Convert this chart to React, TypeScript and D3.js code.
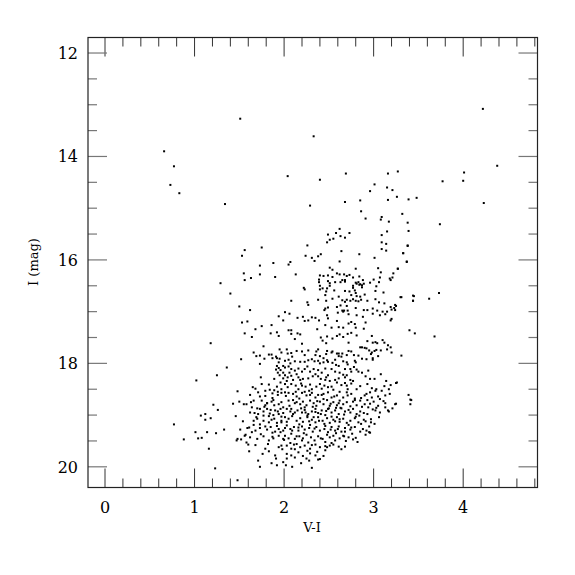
import React from 'react'
import * as d3 from 'd3'

// [V-I, I] pairs
const brightStars: [number, number][] = [
  [0.66, 13.90], [0.77, 14.19], [0.73, 14.55], [0.83, 14.71], [1.34, 14.92], [1.51, 13.27],
  [2.33, 13.61], [2.04, 14.38], [2.40, 14.45], [2.29, 14.95], [2.69, 14.33], [2.68, 14.88],
  [2.85, 14.85], [2.96, 14.67], [3.01, 14.54], [3.16, 14.33], [3.27, 14.29], [3.15, 14.60],
  [3.21, 14.65], [3.16, 14.84], [3.26, 14.78], [3.39, 14.83], [3.48, 14.80], [2.86, 15.06],
  [2.91, 15.20], [3.08, 15.22], [3.09, 15.17], [3.17, 15.26], [3.32, 15.11], [3.38, 15.28],
  [3.74, 15.31], [3.77, 14.48], [4.00, 14.47], [4.01, 14.31], [4.38, 14.18], [4.23, 14.90],
  [4.22, 13.08], [2.62, 15.40]
]

const blueStars: [number, number][] = [
  [1.29, 16.45], [1.40, 16.65], [1.18, 17.61], [1.36, 18.08], [1.25, 18.23], [1.02, 18.33],
  [1.48, 18.54], [1.21, 18.80], [1.26, 18.90], [1.07, 19.01], [1.12, 18.98], [1.12, 19.09],
  [1.18, 19.06], [0.77, 19.18], [0.88, 19.47], [1.01, 19.33], [1.04, 19.45], [1.08, 19.44],
  [1.14, 19.33], [1.24, 19.35], [1.33, 19.28], [1.46, 19.02], [1.16, 19.65], [1.23, 20.03],
  [1.48, 20.26], [1.43, 18.78], [1.47, 19.49], [1.48, 19.46], [1.52, 19.47], [1.51, 19.28],
  [1.52, 17.92], [1.50, 16.90]
]

const giantBranch: [number, number][] = [
  [1.56, 15.81], [1.53, 15.92], [1.75, 15.76], [1.73, 16.11], [1.88, 16.06], [1.55, 16.26],
  [1.56, 16.39], [1.63, 16.35], [1.73, 16.28], [1.90, 16.33], [1.62, 16.97], [1.94, 17.09],
  [2.49, 15.51], [2.48, 15.66], [2.51, 15.61], [2.55, 15.59], [2.58, 15.48], [2.63, 15.54],
  [2.68, 15.57], [2.73, 15.48], [3.09, 15.52], [3.15, 15.45], [3.39, 15.44], [3.09, 15.66],
  [3.14, 15.69], [2.26, 15.72], [3.09, 15.79], [3.14, 15.82], [3.38, 15.73], [3.33, 15.87],
  [2.64, 15.83], [2.84, 15.89], [2.24, 15.92], [2.31, 15.96], [2.38, 15.93], [2.41, 15.89],
  [2.34, 16.02], [2.62, 16.03], [3.01, 15.96], [3.37, 16.04], [2.07, 16.04], [2.05, 16.09],
  [2.13, 16.28], [2.51, 16.15], [2.54, 16.19], [2.80, 16.17], [3.27, 16.17], [2.40, 16.30],
  [2.44, 16.31], [2.49, 16.30], [2.54, 16.33], [2.59, 16.26], [2.62, 16.28], [2.67, 16.28],
  [2.70, 16.31], [2.73, 16.29], [2.77, 16.34], [2.84, 16.32], [3.05, 16.16], [3.08, 16.24],
  [3.22, 16.26], [3.21, 16.34], [3.18, 16.36], [3.19, 16.39], [3.07, 16.34], [2.39, 16.38],
  [2.39, 16.43], [2.49, 16.41], [2.51, 16.45], [2.57, 16.43], [2.63, 16.43], [2.65, 16.39],
  [2.68, 16.39], [2.68, 16.42], [2.80, 16.44], [2.83, 16.43], [2.77, 16.50], [2.81, 16.46],
  [2.96, 16.44], [3.00, 16.38], [3.06, 16.43], [2.40, 16.57], [2.40, 16.50], [2.43, 16.55],
  [2.48, 16.55], [2.51, 16.50], [2.56, 16.59], [2.68, 16.60], [2.73, 16.61], [2.77, 16.54],
  [2.80, 16.64], [2.79, 16.59], [2.75, 16.68], [2.81, 16.70], [2.85, 16.71], [2.90, 16.67],
  [3.03, 16.51], [3.02, 16.60], [3.11, 16.63], [3.31, 16.72], [3.44, 16.69], [3.44, 16.79],
  [2.47, 16.61], [2.46, 16.68], [2.22, 16.54], [2.23, 16.57], [2.38, 16.77], [2.47, 16.79],
  [2.54, 16.75], [2.61, 16.71], [2.65, 16.78], [2.68, 16.81], [2.08, 16.79], [2.26, 16.82],
  [2.27, 16.87], [2.46, 16.94], [2.49, 16.92], [2.45, 16.97], [2.01, 17.01], [2.06, 17.04],
  [2.84, 16.48], [2.85, 16.47], [2.87, 16.49], [2.89, 16.46], [2.87, 16.53], [2.88, 16.39],
  [2.70, 16.77], [2.74, 16.79], [2.77, 16.76], [2.80, 16.79], [2.83, 16.80], [2.86, 16.77],
  [2.93, 16.79], [3.02, 16.76], [3.06, 16.82], [3.12, 16.84], [3.19, 16.91], [3.25, 16.89],
  [3.23, 16.93], [3.20, 16.96], [2.59, 16.91], [2.63, 16.88], [2.65, 16.98], [2.67, 16.98],
  [2.70, 16.89], [2.71, 16.98], [2.80, 16.93], [2.89, 16.97], [2.93, 16.97], [2.99, 16.94],
  [3.04, 16.98], [3.10, 17.00], [3.15, 17.00], [2.15, 17.12], [2.21, 17.10], [2.31, 17.11],
  [2.35, 17.12], [2.48, 17.07], [2.49, 17.13], [2.60, 17.02], [2.66, 17.00], [2.72, 17.05],
  [2.81, 17.07], [2.88, 17.10], [2.99, 17.04], [3.07, 17.07], [3.13, 17.05], [3.20, 17.14],
  [3.38, 15.72], [3.33, 15.87], [3.37, 16.03], [3.27, 16.17], [3.30, 16.72], [3.45, 16.70],
  [3.44, 16.79], [3.24, 16.87], [3.24, 16.97], [3.62, 16.75], [3.73, 16.64]
]

const upperMain: [number, number][] = [
  [1.53, 17.21], [1.59, 17.19], [1.68, 17.34], [1.75, 17.28], [1.86, 17.26], [1.99, 17.17],
  [1.56, 17.42], [1.64, 17.49], [1.85, 17.42], [1.92, 17.40], [1.94, 17.47], [1.77, 17.67],
  [1.95, 17.73], [1.66, 17.79], [1.69, 17.86], [1.73, 17.85], [1.78, 17.91], [1.83, 17.83],
  [1.86, 17.83], [1.91, 17.87], [1.87, 17.90], [1.92, 17.90], [1.95, 17.91], [1.94, 17.98],
  [1.73, 18.01], [1.92, 18.05], [1.94, 18.09], [1.91, 18.12], [1.96, 18.13], [1.93, 18.18],
  [1.99, 18.18], [1.95, 18.23], [1.99, 18.29], [1.74, 18.27], [1.75, 18.40], [1.65, 18.46],
  [1.68, 18.49], [1.79, 18.53], [1.84, 18.51], [1.89, 18.52], [1.92, 18.45], [1.97, 18.50],
  [1.93, 18.55], [1.97, 18.57], [1.73, 18.64], [1.79, 18.63], [1.87, 18.67], [1.93, 18.61],
  [1.97, 17.79], [1.99, 18.05], [1.89, 18.30], [1.96, 18.37],
  [2.23, 17.18], [2.27, 17.17], [2.39, 17.17], [2.46, 17.26], [2.53, 17.31], [2.59, 17.18],
  [2.61, 17.30], [2.66, 17.31], [2.72, 17.23], [2.75, 17.20], [2.79, 17.24], [2.80, 17.31],
  [2.89, 17.33], [2.91, 17.21], [3.19, 17.17], [2.05, 17.36], [2.08, 17.36], [2.08, 17.43],
  [2.15, 17.42], [2.18, 17.44], [2.12, 17.53], [2.20, 17.62], [2.37, 17.34], [2.41, 17.50],
  [2.43, 17.56], [2.48, 17.48], [2.47, 17.61], [2.54, 17.52], [2.59, 17.47], [2.62, 17.44],
  [2.66, 17.49], [2.71, 17.43], [2.72, 17.60], [2.75, 17.41], [2.81, 17.46], [2.98, 17.47],
  [2.93, 17.57], [2.99, 17.60], [3.02, 17.59], [3.04, 17.61], [3.10, 17.55], [3.12, 17.60],
  [3.16, 17.65], [3.40, 17.36], [3.46, 17.42], [3.68, 17.48], [3.31, 17.85], [2.03, 17.73],
  [2.04, 17.81], [2.08, 17.80], [2.14, 17.76], [2.20, 17.77], [2.27, 17.75], [2.36, 17.77],
  [2.38, 17.73], [2.35, 17.84], [2.40, 17.86], [2.47, 17.82], [2.48, 17.76], [2.53, 17.79],
  [2.54, 17.77], [2.59, 17.81], [2.61, 17.81], [2.61, 17.86], [2.64, 17.87], [2.65, 17.81],
  [2.70, 17.84], [2.72, 17.76], [2.75, 17.77], [2.78, 17.84], [2.85, 17.69], [2.87, 17.69],
  [2.90, 17.70], [2.92, 17.71], [2.95, 17.75], [2.98, 17.79], [3.01, 17.76], [3.03, 17.74],
  [3.08, 17.75], [3.15, 17.73], [3.19, 17.69], [3.20, 17.79], [2.97, 17.82], [2.01, 17.95],
  [2.05, 17.93], [2.07, 18.00], [2.12, 17.96], [2.18, 17.97], [2.23, 17.97], [2.27, 17.94],
  [2.31, 17.92], [2.34, 17.96], [2.38, 17.95], [2.40, 18.00], [2.44, 17.98], [2.48, 17.94],
  [2.49, 17.97], [2.54, 17.99], [2.61, 18.05], [2.66, 17.96], [2.70, 17.98], [2.71, 18.02],
  [2.79, 17.95], [2.80, 17.98], [2.87, 17.91], [2.92, 17.92], [2.99, 17.90], [2.99, 17.93],
  [2.01, 18.08], [2.05, 18.06], [2.08, 18.11], [2.12, 18.14], [2.16, 18.10], [2.20, 18.16],
  [2.23, 18.11], [2.29, 18.16], [2.33, 18.11], [2.38, 18.13], [2.42, 18.18], [2.46, 18.10],
  [2.53, 18.11], [2.57, 18.16], [2.62, 18.18], [2.68, 18.11], [2.74, 18.11], [2.75, 18.16],
  [2.81, 18.12], [2.83, 18.16], [2.87, 18.18], [2.94, 18.14], [2.01, 18.23], [2.04, 18.27],
  [2.08, 18.24], [2.10, 18.32], [2.16, 18.27], [2.18, 18.32], [2.21, 18.30], [2.27, 18.29],
  [2.32, 18.25], [2.38, 18.25], [2.41, 18.30], [2.46, 18.32], [2.49, 18.23], [2.51, 18.34],
  [2.57, 18.32], [2.61, 18.29], [2.68, 18.27], [2.70, 18.23], [2.74, 18.32], [2.77, 18.34],
  [2.96, 18.30], [3.01, 18.30], [2.01, 18.40], [2.04, 18.46], [2.08, 18.40], [2.13, 18.43],
  [2.16, 18.50], [2.20, 18.43], [2.24, 18.45], [2.29, 18.41], [2.31, 18.50], [2.36, 18.45],
  [2.40, 18.40], [2.45, 18.43], [2.49, 18.46], [2.53, 18.45], [2.59, 18.37], [2.64, 18.42],
  [2.70, 18.43], [2.71, 18.50], [2.75, 18.39], [2.81, 18.50], [2.93, 18.40], [3.02, 18.53],
  [3.03, 18.50], [3.09, 18.53], [3.17, 18.50], [3.19, 18.42], [3.26, 18.37], [3.25, 18.38],
  [2.01, 18.56], [2.05, 18.57], [2.10, 18.59], [2.14, 18.64], [2.20, 18.57], [2.23, 18.55],
  [2.25, 18.62], [2.31, 18.57], [2.35, 18.66], [2.38, 18.61], [2.44, 18.59], [2.49, 18.56],
  [2.53, 18.66], [2.59, 18.62], [2.62, 18.55], [2.66, 18.66], [2.75, 18.59], [2.79, 18.68],
  [2.90, 18.62], [2.92, 18.59], [2.96, 18.56], [2.98, 18.66], [3.05, 18.64], [3.13, 18.62],
  [3.18, 18.59], [3.39, 18.61], [3.41, 18.70]
]

const lowerMain: [number, number][] = [
  [1.55, 18.79], [1.58, 18.79], [1.50, 18.74], [1.63, 18.75], [1.66, 18.72], [1.75, 18.72],
  [1.79, 18.81], [1.81, 18.77], [1.86, 18.74], [1.89, 18.81], [1.94, 18.79], [1.97, 18.75],
  [1.64, 18.85], [1.70, 18.87], [1.73, 18.88], [1.81, 18.88], [1.85, 18.90], [1.90, 18.91],
  [1.96, 18.88], [1.99, 18.85], [1.62, 18.95], [1.67, 18.96], [1.71, 18.98], [1.77, 19.01],
  [1.83, 19.02], [1.88, 19.00], [1.94, 18.98], [1.99, 18.96], [1.66, 19.11], [1.70, 19.07],
  [1.77, 19.11], [1.83, 19.14], [1.86, 19.09], [1.92, 19.15], [1.97, 19.11], [1.57, 19.38],
  [1.59, 19.25], [1.61, 19.24], [1.68, 19.30], [1.73, 19.25], [1.81, 19.28], [1.85, 19.23],
  [1.90, 19.32], [1.96, 19.33], [1.99, 19.30], [1.56, 19.40], [1.62, 19.43], [1.70, 19.46],
  [1.77, 19.41], [1.83, 19.49], [1.88, 19.45], [1.94, 19.40], [1.99, 19.46], [1.61, 19.70],
  [1.79, 19.65], [1.83, 19.70], [1.90, 19.78], [1.94, 19.62], [1.97, 19.59], [1.71, 19.88],
  [1.73, 20.00], [1.92, 19.97], [1.99, 19.91],
  [2.05, 18.72], [2.10, 18.71], [2.14, 18.75], [2.18, 18.79], [2.21, 18.74], [2.25, 18.81],
  [2.29, 18.72], [2.33, 18.77], [2.36, 18.82], [2.40, 18.74], [2.44, 18.79], [2.48, 18.71],
  [2.51, 18.82], [2.55, 18.75], [2.59, 18.81], [2.62, 18.72], [2.66, 18.79], [2.70, 18.75],
  [2.74, 18.83], [2.77, 18.74], [2.81, 18.81], [2.85, 18.72], [2.90, 18.79], [2.94, 18.85],
  [3.00, 18.74], [3.05, 18.82], [3.13, 18.77], [3.24, 18.79], [3.41, 18.79], [3.42, 18.71],
  [3.25, 18.78], [2.03, 18.88], [2.07, 18.93], [2.10, 18.98], [2.08, 18.88], [2.15, 18.91],
  [2.20, 18.95], [2.23, 18.90], [2.27, 18.98], [2.31, 18.93], [2.35, 18.88], [2.38, 18.96],
  [2.42, 18.91], [2.46, 19.00], [2.49, 18.88], [2.53, 18.95], [2.57, 18.91], [2.61, 18.98],
  [2.64, 18.87], [2.68, 18.93], [2.74, 18.95], [2.77, 18.88], [2.81, 18.98], [2.85, 18.93],
  [2.89, 18.96], [3.02, 18.91], [3.07, 18.95], [3.16, 18.91], [3.17, 18.93], [3.13, 18.85],
  [2.01, 19.04], [2.05, 19.07], [2.09, 19.02], [2.14, 19.11], [2.18, 19.06], [2.21, 19.13],
  [2.26, 19.04], [2.31, 19.09], [2.35, 19.14], [2.38, 19.04], [2.43, 19.11], [2.48, 19.06],
  [2.51, 19.15], [2.55, 19.09], [2.59, 19.04], [2.62, 19.13], [2.66, 19.07], [2.70, 19.15],
  [2.74, 19.11], [2.79, 19.06], [2.83, 19.14], [2.89, 19.09], [2.97, 19.14], [3.01, 19.17],
  [2.03, 19.20], [2.07, 19.27], [2.11, 19.23], [2.16, 19.30], [2.20, 19.22], [2.23, 19.28],
  [2.28, 19.25], [2.32, 19.32], [2.36, 19.23], [2.40, 19.30], [2.45, 19.27], [2.49, 19.33],
  [2.53, 19.23], [2.57, 19.30], [2.61, 19.22], [2.64, 19.32], [2.68, 19.25], [2.74, 19.28],
  [2.79, 19.23], [2.85, 19.32], [2.92, 19.30], [2.96, 19.34], [2.91, 19.38], [2.95, 19.33],
  [2.01, 19.40], [2.05, 19.45], [2.08, 19.36], [2.12, 19.46], [2.17, 19.41], [2.21, 19.45],
  [2.25, 19.38], [2.30, 19.43], [2.34, 19.49], [2.38, 19.41], [2.43, 19.46], [2.46, 19.52],
  [2.51, 19.43], [2.57, 19.49], [2.62, 19.45], [2.67, 19.41], [2.72, 19.43], [2.80, 19.44],
  [2.82, 19.52], [2.03, 19.59], [2.08, 19.65], [2.14, 19.56], [2.18, 19.62], [2.23, 19.59],
  [2.29, 19.65], [2.35, 19.57], [2.40, 19.62], [2.46, 19.68], [2.48, 19.62], [2.51, 19.59],
  [2.53, 19.54], [2.61, 19.61], [2.68, 19.61], [2.03, 19.75], [2.08, 19.78], [2.16, 19.72],
  [2.21, 19.79], [2.25, 19.84], [2.28, 19.88], [2.29, 19.74], [2.35, 19.78], [2.38, 19.86],
  [2.40, 19.85], [2.03, 19.84], [2.09, 20.00], [2.31, 20.02]
]

// extra stars filling the crowded lower part of the sequence
const faintStars: [number, number][] = [
  [2.02, 18.63], [2.17, 18.68], [2.29, 18.61], [2.44, 18.69], [2.56, 18.64], [2.71, 18.62],
  [2.86, 18.67], [3.07, 18.69], [1.88, 18.71], [2.12, 18.77], [2.23, 18.85], [2.37, 18.73],
  [2.52, 18.78], [2.63, 18.86], [2.79, 18.71], [2.96, 18.78], [3.11, 18.73], [1.78, 18.84],
  [1.93, 18.93], [2.06, 18.82], [2.19, 18.87], [2.32, 18.84], [2.47, 18.92], [2.58, 18.86],
  [2.72, 18.90], [2.87, 18.84], [2.99, 18.89], [3.21, 18.87], [1.69, 19.04], [1.84, 18.97],
  [1.97, 19.03], [2.12, 18.95], [2.26, 19.01], [2.41, 18.98], [2.53, 19.03], [2.67, 18.99],
  [2.80, 19.03], [2.93, 18.98], [3.06, 19.04], [1.73, 19.18], [1.89, 19.07], [2.03, 19.13],
  [2.17, 19.18], [2.28, 19.12], [2.45, 19.17], [2.57, 19.12], [2.72, 19.19], [2.86, 19.17],
  [2.95, 19.22], [1.64, 19.33], [1.79, 19.22], [1.94, 19.27], [2.09, 19.30], [2.22, 19.35],
  [2.34, 19.26], [2.48, 19.38], [2.60, 19.27], [2.76, 19.36], [2.88, 19.27], [1.58, 19.53],
  [1.74, 19.37], [1.87, 19.42], [2.00, 19.48], [2.14, 19.41], [2.27, 19.53], [2.41, 19.45],
  [2.55, 19.40], [2.69, 19.50], [2.77, 19.47], [1.68, 19.58], [1.82, 19.56], [1.98, 19.66],
  [2.11, 19.57], [2.26, 19.69], [2.37, 19.71], [2.55, 19.57], [2.64, 19.66], [1.76, 19.75],
  [1.91, 19.84], [2.12, 19.82], [2.19, 19.93], [2.44, 19.79], [1.86, 19.93], [2.02, 19.97],
  [2.06, 18.18], [2.14, 18.21], [2.26, 18.06], [2.35, 18.21], [2.47, 18.27], [2.58, 18.03],
  [2.66, 18.22], [2.78, 18.07], [2.91, 18.25], [3.08, 18.21], [3.14, 18.34], [2.03, 18.34],
  [2.19, 18.39], [2.28, 18.53], [2.42, 18.49], [2.55, 18.51], [2.68, 18.38], [2.85, 18.44],
  [2.98, 18.48], [3.12, 18.44], [1.83, 18.41], [1.87, 18.58], [1.71, 18.56], [1.62, 18.61],
  [2.09, 17.87], [2.23, 17.84], [2.44, 17.90], [2.57, 17.93], [2.83, 17.85], [3.05, 17.86],
  [1.81, 18.77], [1.77, 18.93], [1.92, 19.21], [1.87, 19.34], [1.66, 19.19], [1.54, 19.12],
  [1.60, 19.57], [2.33, 19.04], [2.39, 19.11], [2.62, 19.08], [2.46, 19.21], [2.16, 19.24],
  [2.07, 19.54], [2.31, 19.58], [2.58, 19.35], [2.66, 19.40], [2.24, 18.95], [2.35, 18.94],
  [2.61, 18.77], [2.50, 18.87], [2.42, 18.61], [2.13, 18.55], [2.70, 18.56], [2.93, 18.71],
  [2.84, 19.01], [2.97, 19.08], [3.03, 18.86], [2.20, 19.49], [2.12, 19.66], [2.46, 19.60],
  [2.01, 19.25], [1.97, 19.14], [2.29, 19.19], [2.52, 19.28], [2.75, 19.24], [2.68, 19.32],
  [2.91, 19.12]
]

const xMajor = [0, 1, 2, 3, 4]
const yMajor = [12, 14, 16, 18, 20]

const W = 575
const H = 575
const left = 88, right = 537.5, top = 37.5, bottom = 487.5

export default function App() {
  const x = d3.scaleLinear().domain([-0.19, 4.83]).range([left, right])
  const y = d3.scaleLinear().domain([11.7, 20.4]).range([top, bottom])

  const xMinor = d3.range(0, 4.81, 0.2).filter(v => Math.abs(v - Math.round(v)) > 0.01)
  const yMinor = d3.range(12, 20.01, 0.5).filter(v => v % 2 !== 0)

  const stars = [...brightStars, ...blueStars, ...giantBranch, ...upperMain, ...lowerMain, ...faintStars]
  const font = '"DejaVu Serif", serif'

  return (
    <svg width={W} height={H} style={{ position: 'absolute', left: 0, top: 0, background: '#fff' }}>
      {/* x ticks, bottom and top */}
      <g stroke="#333" strokeWidth={1}>
        {xMajor.map(v => (
          <g key={'xM' + v}>
            <line x1={x(v)} x2={x(v)} y1={bottom} y2={bottom - 19} />
            <line x1={x(v)} x2={x(v)} y1={top} y2={top + 19} />
          </g>
        ))}
        {xMinor.map(v => (
          <g key={'xm' + v}>
            <line x1={x(v)} x2={x(v)} y1={bottom} y2={bottom - 9} />
            <line x1={x(v)} x2={x(v)} y1={top} y2={top + 9} />
          </g>
        ))}
      </g>
      {/* y ticks, left and right */}
      <g stroke="#777" strokeWidth={1.2}>
        {yMajor.map(v => (
          <g key={'yM' + v}>
            <line x1={left} x2={left + 19} y1={y(v)} y2={y(v)} />
            <line x1={right} x2={right - 19} y1={y(v)} y2={y(v)} />
          </g>
        ))}
        {yMinor.map(v => (
          <g key={'ym' + v}>
            <line x1={left} x2={left + 9} y1={y(v)} y2={y(v)} />
            <line x1={right} x2={right - 9} y1={y(v)} y2={y(v)} />
          </g>
        ))}
      </g>
      <rect x={left} y={top} width={right - left} height={bottom - top} fill="none" stroke="#222" strokeWidth={1.2} />

      {stars.map((d, i) => (
        <rect key={i} x={x(d[0]) - 1} y={y(d[1]) - 1} width={2} height={2} fill="#000" />
      ))}

      <g fontFamily={font} fontSize={16} fill="#000">
        {xMajor.map(v => (
          <text key={'xl' + v} x={x(v)} y={513} textAnchor="middle">{v}</text>
        ))}
        {yMajor.map(v => (
          <text key={'yl' + v} x={78} y={y(v)} dy="0.36em" textAnchor="end">{v}</text>
        ))}
      </g>
      <text x={312} y={532} textAnchor="middle" fontFamily={font} fontSize={13}>V-I</text>
      <text transform={`translate(38,262) rotate(-90)`} textAnchor="middle" fontFamily={font} fontSize={13}>I (mag)</text>
    </svg>
  )
}
